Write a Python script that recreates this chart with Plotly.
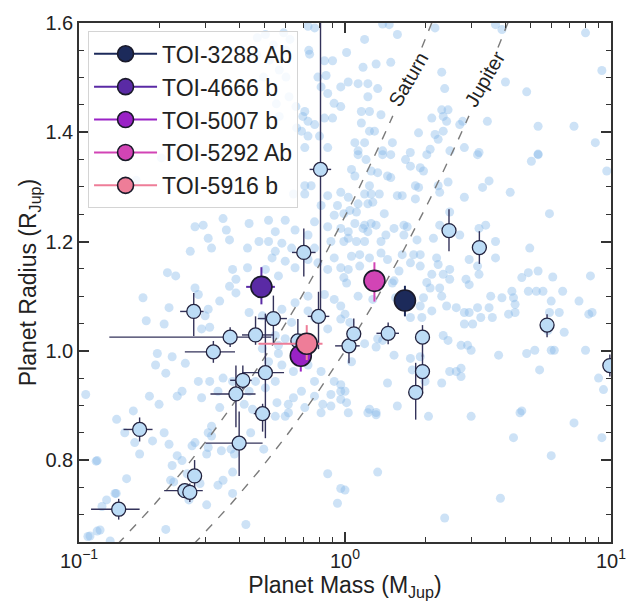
import math
import plotly.graph_objects as go

# ---------------- data ----------------
# Field population of known giant planets (mass in M_Jup, radius in R_Jup)
field_mass = [
    0.468, 0.502, 0.588, 0.621, 0.726, 0.769, 0.736, 0.837, 0.898, 0.791, 0.849, 0.813, 0.861, 0.964,
    0.910, 0.964, 0.898, 0.837, 0.706, 0.726, 0.769, 0.658, 0.686, 0.726, 0.802, 0.861, 0.706,
    0.538, 0.600, 0.466, 0.520, 0.566, 0.494, 0.600, 0.616, 0.552, 0.654, 0.566, 0.694, 0.731,
    0.204, 0.240, 0.164,
    1.385, 1.466, 1.574, 2.18, 3.68, 3.89, 8.02, 1.014, 1.185, 1.309, 1.486, 1.169, 1.028, 1.12,
    1.219, 1.327, 1.219, 1.152, 1.236, 1.365, 1.152, 1.236, 1.291, 1.089, 1.185, 1.507, 2.31, 2.37,
    2.31, 2.44, 2.12, 2.34, 2.41, 1.89, 2.18, 2.34, 2.24, 2.09, 2.70, 2.77, 3.43, 4.01, 4.82, 5.32,
    7.26, 9.24, 8.73, 3.19, 5.32, 2.81, 1.12, 1.385, 1.76, 2.48,
    0.706, 0.746, 0.640, 0.706, 0.861, 0.964, 0.937, 0.813, 0.911, 0.990, 0.861, 0.964, 0.768,
    0.348, 0.293, 0.273, 0.358, 0.516, 0.436, 0.596, 0.547, 0.649, 0.726, 0.475, 0.516, 0.579,
    0.306, 0.315, 0.262, 0.368, 0.430, 0.532, 0.596, 0.547, 0.630, 0.768, 0.885, 0.990, 0.726,
    0.791, 0.649, 0.378, 0.430, 0.502, 0.562, 0.231, 0.215, 0.389, 0.911, 0.861, 0.964, 0.990,
    1.12, 1.20, 1.385, 1.486, 1.689, 1.762, 1.918, 1.973, 2.03, 1.058, 1.089, 1.254, 1.327, 1.445,
    1.486, 1.236, 1.185, 1.254, 1.346, 1.573, 1.641, 1.839, 1.891, 1.839, 2.27, 2.44, 2.24, 2.81,
    3.15, 3.29, 3.48, 4.18, 5.02, 5.32, 9.64, 5.87, 1.029, 1.12, 1.219, 1.272, 1.043, 1.104, 1.405,
    1.665, 1.713, 1.089, 1.185, 1.254, 1.309, 1.169, 1.219, 1.029, 1.425, 1.529, 1.029, 1.104,
    1.185, 1.366, 1.665, 1.865, 2.15, 2.475, 2.27, 2.70, 3.19, 3.38, 3.68, 4.95, 1.058, 1.136,
    1.236, 1.366, 1.445, 1.641, 1.812, 1.918, 2.21, 2.24, 2.475, 2.93, 3.15, 3.68, 1.136, 1.029,
    1.596, 1.762, 1.918, 2.12, 2.34, 2.475, 2.85, 3.19, 4.62, 4.89, 5.32, 6.04, 8.37, 1.529, 2.03,
    0.174, 0.218, 0.179, 0.209, 0.273, 0.281, 0.368, 0.389, 0.338, 0.306, 0.298, 0.289, 0.310,
    0.436, 0.489, 0.579, 0.649, 0.726, 0.837, 0.911, 0.964, 0.726, 0.768, 0.861, 0.964, 0.630,
    0.547, 0.596, 0.562, 0.516, 0.197, 0.224, 0.251, 0.194, 0.212, 0.244, 0.281, 0.310, 0.348,
    0.461, 0.547, 0.579, 0.640, 0.726, 0.813, 0.768, 0.911, 0.964, 0.964, 0.885, 0.768, 0.686,
    0.640, 0.612, 0.502, 0.436, 0.378, 0.333, 0.289, 0.234, 0.200, 0.184, 0.160, 0.106, 0.338,
    0.418, 0.449, 0.555, 0.706, 0.825, 0.885, 0.964, 0.489, 0.706, 0.562,
    0.116, 0.108, 0.120, 0.138,
    1.014, 1.12, 1.0, 1.272, 1.507, 1.55, 1.689, 1.762, 1.945, 1.973, 1.918, 2.09, 2.12, 2.31,
    2.27, 2.41, 2.62, 2.93, 2.81, 2.93, 2.81, 3.02, 3.15, 3.24, 3.53, 3.48, 3.58, 3.89, 4.24, 4.30,
    4.36, 4.12, 4.36, 4.89, 5.24, 5.55, 5.96, 6.58, 7.58, 8.25, 8.49, 5.87, 6.39, 6.67, 5.79,
    1.043, 1.185, 1.309, 1.385, 1.327, 1.762, 1.79, 1.918, 1.529, 1.445, 1.058, 2.34, 2.44, 2.73,
    2.89, 2.98, 3.78, 4.82, 5.17, 5.96, 6.12, 8.02, 5.39, 2.475, 2.62, 2.73, 2.73, 2.31, 2.0, 1.81,
    1.573, 1.236, 1.309, 1.014, 1.0, 8.98, 9.37, 4.62,
    0.1385, 0.1486, 0.162, 0.169, 0.189, 0.209, 0.218, 0.151, 0.1366, 0.127, 0.122, 0.117, 0.117,
    0.110, 0.131, 0.212, 0.224, 0.234, 0.244, 0.221, 0.227, 0.255, 0.259, 0.266, 0.273, 0.285,
    0.306, 0.302, 0.306, 0.315, 0.315, 0.302, 0.333, 0.343, 0.348, 0.378, 0.373, 0.384, 0.378,
    0.442, 0.495, 0.424, 0.547, 0.596, 0.613, 0.813, 0.861, 0.937, 0.964,
    1.029, 1.219, 1.309, 2.06, 2.98, 4.55, 7.26, 9.24, 4.30, 5.96, 1.327, 3.84, 2.37, 1.0,
]
field_radius = [
    1.573, 1.579, 1.582, 1.570, 1.594, 1.591, 1.543, 1.531, 1.531, 1.501, 1.504, 1.483, 1.471, 1.483,
    1.453, 1.447, 1.426, 1.426, 1.438, 1.420, 1.414, 1.408, 1.402, 1.393, 1.393, 1.372, 1.372,
    1.560, 1.550, 1.542, 1.532, 1.514, 1.501, 1.501, 1.465, 1.452, 1.447, 1.429, 1.429, 1.550,
    1.353, 1.362, 1.312,
    1.598, 1.597, 1.579, 1.591, 1.597, 1.588, 1.582, 1.546, 1.570, 1.525, 1.528, 1.519, 1.492, 1.489,
    1.489, 1.480, 1.465, 1.438, 1.438, 1.432, 1.417, 1.402, 1.402, 1.381, 1.381, 1.381, 1.510, 1.480,
    1.441, 1.441, 1.426, 1.429, 1.420, 1.399, 1.396, 1.402, 1.387, 1.369, 1.414, 1.420, 1.420, 1.492,
    1.474, 1.411, 1.411, 1.513, 1.381, 1.363, 1.360, 1.372, 1.366, 1.366, 1.363, 1.366,
    1.302, 1.302, 1.287, 1.287, 1.284, 1.290, 1.266, 1.266, 1.248, 1.251, 1.227, 1.224, 1.236,
    1.242, 1.230, 1.227, 1.221, 1.239, 1.233, 1.239, 1.218, 1.221, 1.212, 1.200, 1.200, 1.197,
    1.206, 1.188, 1.182, 1.203, 1.188, 1.170, 1.164, 1.182, 1.188, 1.188, 1.200, 1.200, 1.167,
    1.161, 1.152, 1.149, 1.152, 1.149, 1.137, 1.137, 1.143, 1.131, 1.170, 1.149, 1.152, 1.134,
    1.359, 1.350, 1.359, 1.359, 1.350, 1.338, 1.335, 1.329, 1.359, 1.332, 1.320, 1.329, 1.326, 1.320,
    1.317, 1.302, 1.287, 1.287, 1.287, 1.284, 1.284, 1.302, 1.299, 1.278, 1.290, 1.309, 1.302, 1.281,
    1.359, 1.299, 1.311, 1.290, 1.347, 1.359, 1.329, 1.251, 1.281, 1.269, 1.269, 1.272, 1.257, 1.254,
    1.251, 1.230, 1.227, 1.233, 1.230, 1.233, 1.230, 1.224, 1.218, 1.218, 1.212, 1.224, 1.206, 1.200,
    1.200, 1.200, 1.212, 1.203, 1.206, 1.254, 1.230, 1.212, 1.224, 1.230, 1.200, 1.188, 1.173, 1.176,
    1.170, 1.179, 1.167, 1.176, 1.176, 1.176, 1.170, 1.158, 1.149, 1.167, 1.155, 1.170, 1.155, 1.149,
    1.146, 1.161, 1.155, 1.140, 1.140, 1.131, 1.131, 1.140, 1.134, 1.143, 1.146, 1.135, 1.137, 1.128,
    1.125,
    1.097, 1.079, 1.055, 1.049, 1.115, 1.103, 1.118, 1.106, 1.091, 1.076, 1.064, 1.040, 1.043,
    1.070, 1.064, 1.076, 1.088, 1.100, 1.103, 1.094, 1.082, 1.073, 1.061, 1.040, 1.058, 1.052,
    1.028, 1.022, 0.995, 0.980, 0.995, 0.989, 0.977, 0.974, 0.959, 0.926, 0.944, 0.944, 0.950,
    0.944, 0.944, 0.974, 0.962, 0.974, 0.962, 0.944, 0.944, 0.938, 0.926, 0.920, 0.917, 0.926,
    0.914, 0.902, 0.932, 0.926, 0.944, 0.926, 0.914, 0.917, 0.902, 0.917, 0.890, 0.920, 0.896,
    0.902, 0.893, 0.905, 0.896, 0.902, 0.899, 0.911, 1.004, 1.004, 1.010,
    0.798, 0.660, 0.672, 0.739,
    1.124, 1.100, 1.067, 1.094, 1.124, 1.097, 1.082, 1.061, 1.061, 1.097, 1.082, 1.115, 1.073, 1.100,
    1.115, 1.082, 1.079, 1.121, 1.070, 1.070, 1.049, 1.049, 1.079, 1.061, 1.100, 1.079, 1.061, 1.097,
    1.109, 1.097, 1.085, 1.067, 1.070, 1.109, 1.109, 1.109, 1.091, 1.109, 1.091, 1.067, 1.070, 1.070,
    1.070, 1.034, 1.037,
    1.052, 1.013, 1.007, 1.019, 1.022, 0.986, 0.965, 0.989, 0.992, 0.941, 0.980, 1.028, 1.019, 1.010,
    1.010, 1.001, 0.992, 0.995, 1.001, 1.001, 1.001, 1.001, 0.965, 0.962, 0.962, 0.968, 0.953, 0.941,
    0.944, 0.929, 0.899, 0.893, 0.887, 0.905, 0.926, 0.950, 0.929, 0.890,
    0.8745, 0.850, 0.832, 0.811, 0.835, 0.850, 0.829, 0.766, 0.739, 0.727, 0.715, 0.799, 0.670,
    0.661, 0.652, 0.673, 0.790, 0.808, 0.799, 0.763, 0.760, 0.775, 0.727, 0.826, 0.832, 0.757,
    0.823, 0.811, 0.850, 0.862, 0.844, 0.718, 0.754, 0.817, 0.763, 0.778, 0.820, 0.811, 0.739,
    0.850, 0.820, 0.682, 0.880, 0.880, 0.8865, 0.8865, 0.775, 0.721, 0.748,
    0.8865, 0.8865, 0.883, 0.880, 0.880, 0.8865, 0.868, 0.841, 0.841, 0.808, 0.778, 0.730, 0.694, 0.745,
]

# Comparison planets with measured uncertainties
comp_mass = [0.141, 0.169, 0.250, 0.261, 0.272, 0.270, 0.320, 0.370, 0.461, 0.538, 0.502, 0.413,
             0.389, 0.400, 0.490, 0.700, 0.809, 0.795, 0.665, 1.035, 1.079, 1.453, 1.956, 1.956,
             1.844, 2.46, 3.20, 5.75, 9.9]
comp_mass_lo = [0.030, 0.022, 0.041, 0.008, 0.008, 0.030, 0.070, 0.240, 0.051, 0.068, 0.092, 0.043,
                0.077, 0.101, 0.036, 0.068, 0.073, 0.071, 0.020, 0.117, 0.040, 0.140, 0.030, 0.030,
                0.030, 0.040, 0.050, 0.100, 0.200]
comp_mass_hi = [0.028, 0.020, 0.042, 0.008, 0.008, 0.024, 0.066, 0.158, 0.077, 0.067, 0.088, 0.033,
                0.072, 0.090, 0.034, 0.075, 0.078, 0.078, 0.020, 0.101, 0.040, 0.143, 0.030, 0.030,
                0.030, 0.040, 0.050, 0.100, 0.200]
comp_radius = [0.710, 0.856, 0.744, 0.741, 0.771, 1.072, 0.998, 1.025, 1.029, 1.059, 0.960, 0.946,
               0.921, 0.831, 0.885, 1.180, 1.332, 1.063, 1.018, 1.009, 1.031, 1.032, 1.025, 0.962,
               0.924, 1.220, 1.189, 1.047, 0.973]
comp_radius_lo = [0.019, 0.022, 0.013, 0.018, 0.032, 0.045, 0.020, 0.018, 0.018, 0.045, 0.120, 0.016,
                  0.061, 0.060, 0.033, 0.044, 0.270, 0.060, 0.040, 0.032, 0.028, 0.020, 0.036, 0.041,
                  0.050, 0.038, 0.030, 0.022, 0.020]
comp_radius_hi = [0.019, 0.022, 0.013, 0.016, 0.029, 0.034, 0.020, 0.018, 0.034, 0.042, 0.108, 0.027,
                  0.052, 0.058, 0.018, 0.044, 0.300, 0.045, 0.040, 0.025, 0.028, 0.020, 0.022, 0.031,
                  0.054, 0.039, 0.030, 0.020, 0.020]

# New planets (TOIs)
toi_names = ["TOI-3288 Ab", "TOI-4666 b", "TOI-5007 b", "TOI-5292 Ab", "TOI-5916 b"]
toi_mass = [1.68, 0.485, 0.682, 1.29, 0.718]
toi_mass_lo = [0.07, 0.06, 0.04, 0.05, 0.245]
toi_mass_hi = [0.07, 0.06, 0.04, 0.05, 0.105]
toi_radius = [1.092, 1.117, 0.991, 1.128, 1.013]
toi_radius_lo = [0.029, 0.032, 0.029, 0.038, 0.030]
toi_radius_hi = [0.027, 0.036, 0.030, 0.034, 0.034]
toi_colors = ["#1c2a5a", "#5a2aa5", "#9a22c6", "#d244b5", "#ee7d98"]

# Solar-system reference planets for iso-density curves
ref_names = ["Saturn", "Jupiter"]
ref_mass = [0.299, 1.0]
ref_radius = [0.833, 1.0]

# axis tick labels
x_tick_vals = [0.1, 1, 10]
x_tick_text = ["10<sup>−1</sup>", "10<sup>0</sup>", "10<sup>1</sup>"]

# ---------------- figure ----------------
fig = go.Figure()
FONT = "Liberation Sans, Arial, sans-serif"
INK = "#222222"

fig.add_trace(go.Scatter(
    x=field_mass, y=field_radius, mode="markers", showlegend=False, hoverinfo="skip",
    marker=dict(size=9, color="rgba(130,183,233,0.40)", line=dict(width=0)),
))

# iso-density curves (broken around the label)
r_seg1 = [0.60 + 0.01 * i for i in range(84)]          # 0.60 .. 1.43
r_seg2 = [1.555 + 0.01 * i for i in range(7)]           # 1.555 .. 1.615
label_pos = []
for name, m0, r0 in zip(ref_names, ref_mass, ref_radius):
    rho = m0 / r0 ** 3
    xs = [rho * r ** 3 for r in r_seg1] + [None] + [rho * r ** 3 for r in r_seg2]
    ys = r_seg1 + [None] + r_seg2
    fig.add_trace(go.Scatter(x=xs, y=ys, mode="lines", showlegend=False, hoverinfo="skip",
                             connectgaps=False,
                             line=dict(color="#7a7a7a", width=1.4, dash="dash")))
    rl = 1.497
    label_pos.append((name, rho * rl ** 3, rl))

for name, xm, yr in label_pos:
    fig.add_annotation(x=math.log10(xm), y=yr, text=name, showarrow=False,
                       textangle=-60, font=dict(size=20, color=INK, family=FONT))

fig.add_trace(go.Scatter(
    x=comp_mass, y=comp_radius, mode="markers", showlegend=False, hoverinfo="skip",
    error_x=dict(type="data", symmetric=False, array=comp_mass_hi, arrayminus=comp_mass_lo,
                 color="#33325a", thickness=1.4, width=0),
    error_y=dict(type="data", symmetric=False, array=comp_radius_hi, arrayminus=comp_radius_lo,
                 color="#33325a", thickness=1.4, width=0),
    marker=dict(size=14, color="#bcdcf6", line=dict(color="#22223e", width=1.3)),
))

for i, name in enumerate(toi_names):
    c = toi_colors[i]
    fig.add_trace(go.Scatter(
        x=[toi_mass[i]], y=[toi_radius[i]], mode="lines+markers", name=name,
        line=dict(color=c, width=2),
        error_x=dict(type="data", symmetric=False, array=[toi_mass_hi[i]],
                     arrayminus=[toi_mass_lo[i]], color=c, thickness=2, width=0),
        error_y=dict(type="data", symmetric=False, array=[toi_radius_hi[i]],
                     arrayminus=[toi_radius_lo[i]], color=c, thickness=2, width=0),
        marker=dict(size=21, color=c, line=dict(color="#1a1a2a", width=1.6)),
    ))

# dummy trace to activate the mirrored tick axes (top / right)
fig.add_trace(go.Scatter(x=[None], y=[None], xaxis="x2", yaxis="y2", showlegend=False,
                         hoverinfo="skip", mode="markers"))

minor_x = [v * 0.1 for v in range(2, 10)] + [float(v) for v in range(2, 10)]

common_tick = dict(ticks="inside", ticklen=10, tickwidth=1.5, tickcolor="#333",
                   showgrid=False, zeroline=False)
minor_x_d = dict(tickvals=minor_x, ticks="inside", ticklen=5, tickwidth=1.2,
                 tickcolor="#333", showgrid=False)
minor_y_d = dict(dtick=0.05, tick0=0, ticks="inside", ticklen=5, tickwidth=1.2,
                 tickcolor="#333", showgrid=False)

fig.update_layout(
    width=638, height=608,
    margin=dict(l=79, r=17, t=15, b=66),
    paper_bgcolor="white", plot_bgcolor="white",
    font=dict(family=FONT, size=20, color=INK),
    legend=dict(x=0.017, y=0.984, xanchor="left", yanchor="top",
                bgcolor="rgba(255,255,255,0.82)", bordercolor="#d4d4d4", borderwidth=1,
                font=dict(size=23, family=FONT, color=INK), itemwidth=63),
    xaxis=dict(type="log", range=[-1, 1], showline=True, linecolor="#333", linewidth=1.5,
               mirror=True, tickvals=x_tick_vals, ticktext=x_tick_text,
               tickfont=dict(size=20), minor=minor_x_d,
               title=dict(text="Planet Mass (M<sub>Jup</sub>)", font=dict(size=23), standoff=6),
               **common_tick),
    yaxis=dict(range=[0.65, 1.6], showline=True, linecolor="#333", linewidth=1.5, mirror=True,
               tick0=0, dtick=0.2, tickformat=".1f", tickfont=dict(size=20), minor=minor_y_d,
               title=dict(text="Planet Radius (R<sub>Jup</sub>)", font=dict(size=23), standoff=2),
               **common_tick),
    xaxis2=dict(type="log", range=[-1, 1], overlaying="x", anchor="y", side="top",
                tickvals=x_tick_vals, showticklabels=False, minor=minor_x_d, **common_tick),
    yaxis2=dict(range=[0.65, 1.6], overlaying="y", anchor="x", side="right",
                tick0=0, dtick=0.2, showticklabels=False, minor=minor_y_d, **common_tick),
)

fig.write_html("out.html")
